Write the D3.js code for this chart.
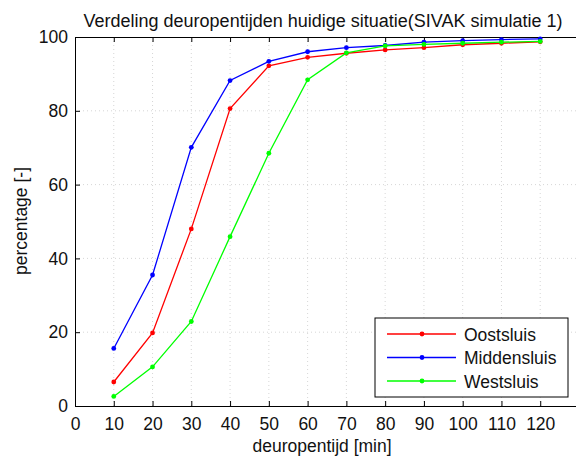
<!DOCTYPE html>
<html>
<head>
<meta charset="utf-8">
<script src="https://cdn.jsdelivr.net/npm/d3@7"></script>
<style>
  body { margin: 0; background: #fff; }
  svg { font-family: "Liberation Sans", Arial, sans-serif; }
</style>
</head>
<body>
<div id="chart"></div>
<script>
const minutes = [10, 20, 30, 40, 50, 60, 70, 80, 90, 100, 110, 120];
const oostsluis = [6.5, 19.8, 48.0, 80.6, 92.2, 94.5, 95.6, 96.5, 97.1, 97.9, 98.3, 98.7];
const middensluis = [15.6, 35.5, 70.1, 88.2, 93.4, 96.0, 97.1, 97.7, 98.6, 99.0, 99.3, 99.5];
const westsluis = [2.6, 10.6, 22.9, 45.9, 68.5, 88.4, 95.7, 97.6, 98.0, 98.3, 98.6, 98.8];
const xTicks = [0, 10, 20, 30, 40, 50, 60, 70, 80, 90, 100, 110, 120];
const yTicks = [0, 20, 40, 60, 80, 100];

const series = [
  {name: 'Oostsluis', values: oostsluis, color: '#ff0000'},
  {name: 'Middensluis', values: middensluis, color: '#0000ff'},
  {name: 'Westsluis', values: westsluis, color: '#00ff00'}
];

const width = 576, height = 464;
const plotLeft = 75, plotTop = 37, plotRight = 579, plotBottom = 406;
const fontSize = 17.5;

const svg = d3.select('#chart').append('svg')
  .attr('width', width)
  .attr('height', height);

const x = d3.scaleLinear().domain([0, 130]).range([plotLeft, plotRight]);
const y = d3.scaleLinear().domain([0, 100]).range([plotBottom, plotTop]);

// grid
const grid = svg.append('g').attr('stroke', '#cccccc').attr('stroke-width', 0.8)
  .attr('stroke-dasharray', '1,3');
grid.selectAll('.gx').data(xTicks.slice(1)).enter().append('line')
  .attr('x1', d => x(d)).attr('x2', d => x(d))
  .attr('y1', plotTop).attr('y2', plotBottom);
grid.selectAll('.gy').data(yTicks.slice(1, -1)).enter().append('line')
  .attr('x1', plotLeft).attr('x2', plotRight)
  .attr('y1', d => y(d)).attr('y2', d => y(d));

// axes
const xAxis = d3.axisBottom(x).tickValues(xTicks).tickSize(-5).tickPadding(12);
const yAxis = d3.axisLeft(y).tickValues(yTicks).tickSize(-5).tickPadding(7);
const xTop = d3.axisTop(x).tickValues(xTicks).tickSize(-5).tickFormat('');

svg.append('g').attr('transform', `translate(0,${plotBottom})`).call(xAxis);
svg.append('g').attr('transform', `translate(${plotLeft},0)`).call(yAxis);
svg.append('g').attr('transform', `translate(0,${plotTop})`).call(xTop);

svg.selectAll('.domain').attr('stroke', '#000').attr('stroke-width', 1);
svg.selectAll('.tick line').attr('stroke', '#000');
svg.selectAll('.tick text').attr('font-size', fontSize).attr('fill', '#111')
  .attr('font-family', '"Liberation Sans", Arial, sans-serif');

// lines
const line = d3.line().x((d, i) => x(minutes[i])).y(d => y(d));
series.forEach(s => {
  svg.append('path').datum(s.values)
    .attr('fill', 'none').attr('stroke', s.color).attr('stroke-width', 1.3)
    .attr('d', line);
  svg.selectAll(null).data(s.values).enter().append('circle')
    .attr('cx', (d, i) => x(minutes[i])).attr('cy', d => y(d))
    .attr('r', 2.4).attr('fill', s.color);
});

// titles
svg.append('text').attr('x', 323).attr('y', 27).attr('text-anchor', 'middle')
  .attr('font-size', 18).attr('fill', '#111')
  .text('Verdeling deuropentijden huidige situatie(SIVAK simulatie 1)');
svg.append('text').attr('x', 322).attr('y', 452).attr('text-anchor', 'middle')
  .attr('font-size', fontSize).attr('fill', '#111')
  .text('deuropentijd [min]');
svg.append('text').attr('transform', 'translate(27,221) rotate(-90)')
  .attr('text-anchor', 'middle').attr('font-size', fontSize).attr('fill', '#111')
  .text('percentage [-]');

// legend
const legend = svg.append('g');
legend.append('rect').attr('x', 375).attr('y', 318).attr('width', 193).attr('height', 79)
  .attr('fill', '#fff').attr('stroke', '#000').attr('stroke-width', 1);
series.forEach((s, i) => {
  const ly = 334 + i * 23.5;
  legend.append('line').attr('x1', 387).attr('x2', 456).attr('y1', ly).attr('y2', ly)
    .attr('stroke', s.color).attr('stroke-width', 1.3);
  legend.append('circle').attr('cx', 422).attr('cy', ly).attr('r', 2.4).attr('fill', s.color);
  legend.append('text').attr('x', 464).attr('y', ly + 6.5).attr('font-size', fontSize)
    .attr('fill', '#111').text(s.name);
});
</script>
</body>
</html>
